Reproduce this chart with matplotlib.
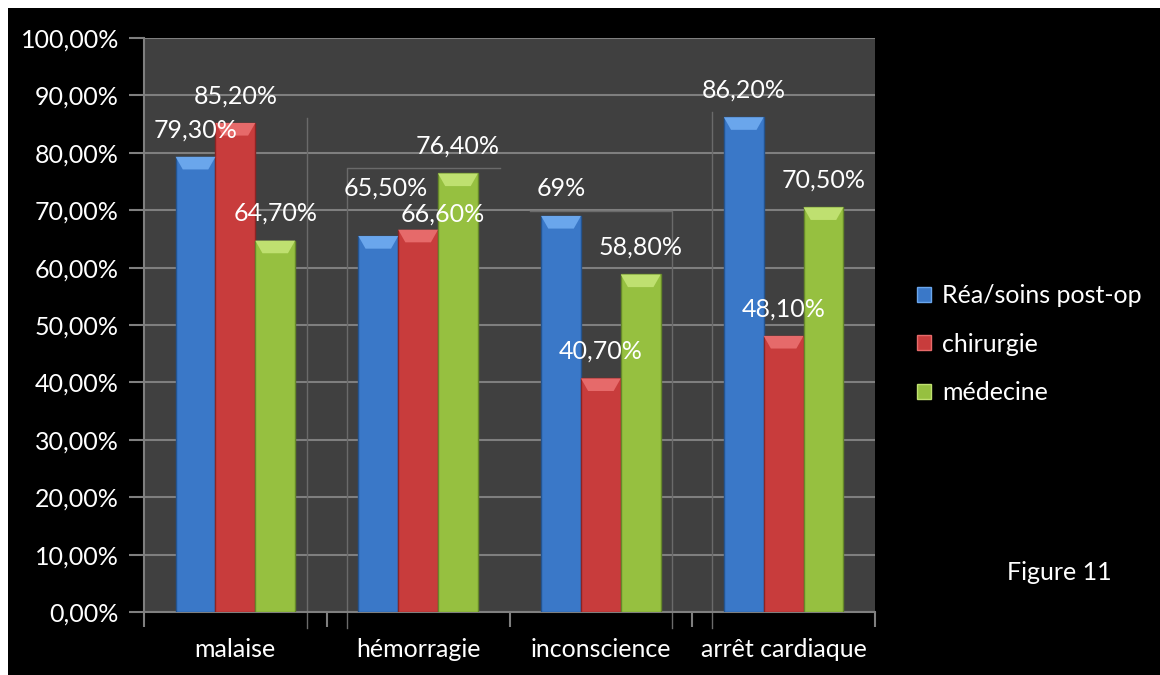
import matplotlib
matplotlib.use("Agg")
import matplotlib.pyplot as plt
from matplotlib.patches import Rectangle, Patch
import numpy as np

plt.rcParams['font.family'] = ['Lato', 'DejaVu Sans']

# data
categories = ["malaise", "hémorragie", "inconscience", "arrêt cardiaque"]
series = ["Réa/soins post-op", "chirurgie", "médecine"]
rea = [79.3, 65.5, 69.0, 86.2]
chir = [85.2, 66.6, 40.7, 48.1]
med = [64.7, 76.4, 58.8, 70.5]
labels_rea = ["79,30%", "65,50%", "69%", "86,20%"]
labels_chir = ["85,20%", "66,60%", "40,70%", "48,10%"]
labels_med = ["64,70%", "76,40%", "58,80%", "70,50%"]
yticks = [0, 10, 20, 30, 40, 50, 60, 70, 80, 90, 100]
ytick_labels = ["0,00%", "10,00%", "20,00%", "30,00%", "40,00%", "50,00%",
                "60,00%", "70,00%", "80,00%", "90,00%", "100,00%"]

colors = ["#3a78c8", "#c83c3c", "#96c040"]
caps = ["#6aa6ec", "#e66a6a", "#bfe070"]
edges = ["#24548f", "#8c2424", "#66882a"]
fs = 18

# label offsets (points) - two labels were moved by hand in the original
default_off = (0, 19.5)
moved = {(0, 1): (5.5, 34.5), (1, 1): (18, 11)}

fig = plt.figure(figsize=(11.6, 6.75), dpi=100)
fig.patch.set_facecolor("white")
fig.patches.append(Rectangle((8 / 1160, 0), 1, 667 / 675, transform=fig.transFigure,
                             facecolor="black", edgecolor="none", zorder=-10))

ax = fig.add_axes([144 / 1160, 1 - 612 / 675, 731 / 1160, 574 / 675])
ax.set_facecolor("#404040")
grid_c = "#7f7f7f"

x = np.arange(len(categories))
w = 0.218
offsets = [-w, 0, w]
values = [rea, chir, med]
texts = [labels_rea, labels_chir, labels_med]

for i in range(3):
    xs = x + offsets[i]
    ax.bar(xs, values[i], width=w, color=colors[i], edgecolor=edges[i],
           linewidth=1, zorder=3)
    # bevel on top of each bar
    for xc, v in zip(xs, values[i]):
        d = w * 0.18
        ax.fill([xc - w / 2, xc + w / 2, xc + w / 2 - d, xc - w / 2 + d],
                [v, v, v - 2.2, v - 2.2], color=caps[i], zorder=4, lw=0)
    for j, (xc, v, t) in enumerate(zip(xs, values[i], texts[i])):
        off = moved.get((i, j), default_off)
        ax.annotate(t, (xc, v), xytext=off, textcoords="offset points",
                    ha="center", va="center", color="white", fontsize=fs, zorder=6)

ax.set_xlim(-0.5, 3.5)
ax.set_ylim(0, 100)
ax.set_yticks(yticks)
ax.set_yticklabels(ytick_labels)
ax.yaxis.grid(True, color=grid_c, linewidth=1.5, zorder=1)
ax.set_axisbelow(True)

# category boundaries carry the tick marks, labels sit at centres
ax.set_xticks(np.arange(-0.5, 4, 1))
ax.set_xticklabels([])
ax.set_xticks(x, minor=True)
ax.set_xticklabels(categories, minor=True)
ax.tick_params(axis="x", which="major", length=11, color=grid_c, width=1.5)
ax.tick_params(axis="x", which="minor", length=0, pad=19, labelsize=fs, labelcolor="white")
ax.tick_params(axis="y", length=11, color=grid_c, width=1.5, pad=7,
               labelsize=fs, labelcolor="white")

for s in ["top", "right"]:
    ax.spines[s].set_visible(False)
for s in ["left", "bottom"]:
    ax.spines[s].set_color(grid_c)
    ax.spines[s].set_linewidth(1.5)

# faint back-wall lines of the 3D look
wall_c = "#6a6a6a"
ax.plot([0.39, 0.39], [-2.8, 86.1], color=wall_c, lw=1, zorder=2, clip_on=False)
ax.plot([0.61, 0.61, 1.45], [-2.8, 77.4, 77.4], color=wall_c, lw=1, zorder=2, clip_on=False)
ax.plot([1.61, 2.39, 2.39], [69.9, 69.9, -2.8], color=wall_c, lw=1, zorder=2, clip_on=False)
ax.plot([2.61, 2.61], [-2.8, 87.1], color=wall_c, lw=1, zorder=2, clip_on=False)

handles = [Patch(facecolor=colors[i], edgecolor=caps[i], label=series[i]) for i in range(3)]
leg = fig.legend(handles=handles, loc="center left", bbox_to_anchor=(894 / 1160, 1 - 344 / 675),
                 frameon=False, fontsize=fs, labelcolor="white", handlelength=0.56,
                 handleheight=0.56, handletextpad=0.45, labelspacing=1.02)

fig.text(1059 / 1160, 1 - 572 / 675, "Figure 11", color="white", fontsize=fs,
         ha="center", va="center")

fig.savefig("out.png", dpi=100, facecolor=fig.get_facecolor())
